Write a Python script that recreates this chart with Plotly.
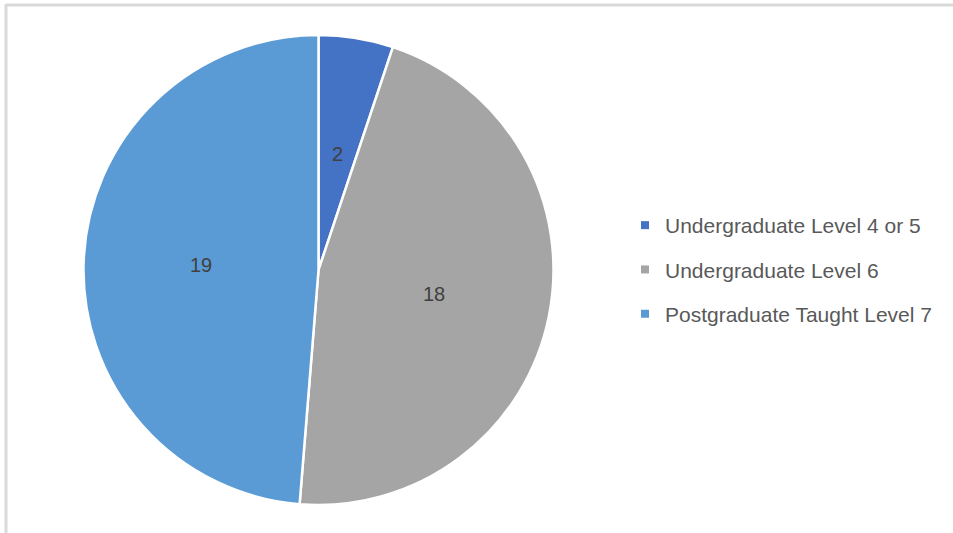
import math
import plotly.graph_objects as go

labels = ["Undergraduate Level 4 or 5", "Undergraduate Level 6", "Postgraduate Taught Level 7"]
values = [2, 18, 19]
colors = ["#4472C4", "#A5A5A5", "#5B9BD5"]

W, H = 953, 533
cx, cy, r = 318.5, 270, 235

fig = go.Figure()
fig.add_trace(go.Pie(
    labels=labels, values=values, sort=False, direction="clockwise", rotation=0,
    marker=dict(colors=colors, line=dict(color="white", width=2.5)),
    textinfo="none",
    domain=dict(x=[(cx - r) / W, (cx + r) / W], y=[(H - cy - r) / H, (H - cy + r) / H]),
    showlegend=False, hoverinfo="label+value",
))
for lab, col in zip(labels, colors):
    fig.add_trace(go.Scatter(
        x=[None], y=[None], mode="markers", name=lab, legendgroup=lab,
        marker=dict(symbol="square", size=8, color=col), showlegend=True,
    ))

# data labels at half radius along each slice's mid-angle (clockwise from top)
total = sum(values)
annotations = []
cum = 0
for v in values:
    mid = (cum + v / 2) / total * 2 * math.pi
    cum += v
    px = cx + 0.5 * r * math.sin(mid)
    py = cy - 0.5 * r * math.cos(mid)
    annotations.append(dict(
        x=px / W, y=(H - py) / H, xref="paper", yref="paper", text=str(v), showarrow=False,
        xanchor="center", yanchor="middle",
        font=dict(family="Liberation Sans, Arial", size=20, color="#404040"),
    ))

fig.update_layout(
    width=W, height=H, margin=dict(l=0, r=0, t=0, b=0),
    paper_bgcolor="white", plot_bgcolor="white",
    xaxis=dict(visible=False), yaxis=dict(visible=False),
    annotations=annotations,
    legend=dict(x=625 / W, y=(H - 205) / H, xanchor="left", yanchor="top",
                font=dict(family="Liberation Sans, Arial", size=21, color="#595959"),
                tracegroupgap=14, bgcolor="rgba(0,0,0,0)"),
    shapes=[
        dict(type="line", xref="paper", yref="paper", x0=6 / W, x1=1, y0=(H - 5) / H, y1=(H - 5) / H,
             line=dict(color="#D9D9D9", width=3)),
        dict(type="line", xref="paper", yref="paper", x0=6 / W, x1=6 / W, y0=0, y1=(H - 4) / H,
             line=dict(color="#D9D9D9", width=3)),
    ],
)
fig.write_html("out.html", config={"displayModeBar": False},
               post_script="document.body.style.margin='0';")
